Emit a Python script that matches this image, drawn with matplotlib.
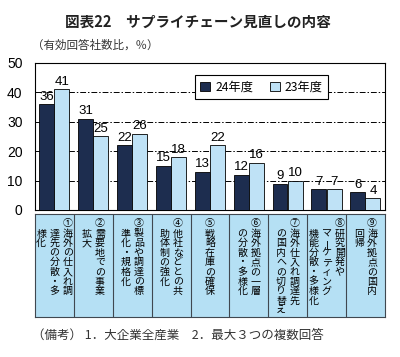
import numpy as np
import matplotlib
matplotlib.use("Agg")
import matplotlib.pyplot as plt
from matplotlib.patches import Patch

plt.rcParams['font.family'] = ['Noto Sans CJK JP', 'DejaVu Sans']

# data
series = ['24年度', '23年度']
fy24 = [36, 31, 22, 15, 13, 12, 9, 7, 6]
fy23 = [41, 25, 26, 18, 22, 16, 10, 7, 4]
nums = ['①', '②', '③', '④', '⑤', '⑥', '⑦', '⑧', '⑨']
# each label as vertical columns, right to left
labels = [
    ['海外の仕入れ調', '達先の分散・多', '様化'],
    ['需要地での事業', '拡大'],
    ['製品や調達の標', '準化・規格化'],
    ['他社などとの共', '助体制の強化'],
    ['戦略在庫の確保'],
    ['海外拠点の一層', 'の分散・多様化'],
    ['海外仕入れ調達先', 'の国内への切り替え'],
    ['研究開発や', 'マーケティング', '機能分散・多様化'],
    ['海外拠点の国内', '回帰'],
]

dark = '#1d2d4f'
light = '#bfe2f6'
cell = '#b5e0f4'

fig = plt.figure(figsize=(4, 3.57), dpi=100)
ax = fig.add_axes([0.0875, 0.4118, 0.875, 0.4118])

x = np.arange(len(fy24))
w = 0.385
b1 = ax.bar(x - 0.2, fy24, w, color=dark, edgecolor='black', linewidth=0.6, zorder=3)
b2 = ax.bar(x + 0.19, fy23, w, color=light, edgecolor='black', linewidth=0.6, zorder=3)

for bars, vals in [(b1, fy24), (b2, fy23)]:
    for r, v in zip(bars, vals):
        ax.text(r.get_x() + r.get_width() / 2, v + 0.5, str(v), ha='center', va='bottom',
                fontsize=9.5, family='Liberation Sans', zorder=4)

ax.set_xlim(-0.5, 8.5)
ax.set_ylim(0, 50)
ax.set_yticks(range(0, 51, 10))
ax.set_xticks([])
ax.tick_params(axis='y', length=0, pad=9)
for t in ax.get_yticklabels():
    t.set_family('Liberation Sans')
    t.set_fontsize(10)
for y in range(10, 50, 10):
    ax.axhline(y, color='black', linewidth=0.7, linestyle=(0, (6, 2, 1.5, 2)), zorder=1)
for s in ax.spines.values():
    s.set_linewidth(0.8)

handles = [Patch(facecolor=dark, edgecolor='black', linewidth=0.6),
           Patch(facecolor=light, edgecolor='black', linewidth=0.6)]
leg = ax.legend(handles, series, loc='upper left', bbox_to_anchor=(0.457, 0.918), ncol=2,
                fontsize=8.8, frameon=True, fancybox=False, edgecolor='black',
                handlelength=0.8, handleheight=0.8, handletextpad=0.4, columnspacing=1.4,
                borderaxespad=0, borderpad=0.45, framealpha=1)
leg.get_frame().set_linewidth(0.8)
leg.set_zorder(5)

# label table
tb = fig.add_axes([0.0875, 0.112, 0.875, 0.2885])
tb.set_xlim(-0.5, 8.5)
tb.set_ylim(103, 0)
tb.set_facecolor(cell)
tb.set_xticks([])
tb.set_yticks([])
for s in tb.spines.values():
    s.set_color('#404850')
    s.set_linewidth(0.8)
for i in range(1, len(nums)):
    tb.axvline(i - 0.5, color='#404850', linewidth=0.8)

pitch_x = 13.2 / 38.9
pitch_y = 9.6
for i, (num, cols) in enumerate(zip(nums, labels)):
    n = len(cols)
    for k, col in enumerate(cols):
        cx = i + ((n - 1) / 2 - k) * pitch_x
        if k == 0:
            tb.text(cx, 9, num, ha='center', va='center', fontsize=7.2)
        for j, ch in enumerate(col):
            rot = 90 if ch == 'ー' else 0
            tb.text(cx, 19.5 + j * pitch_y, ch, ha='center', va='center',
                    fontsize=7.2, rotation=rot)

fig.text(0.495, 0.938, '図表22　サプライチェーン見直しの内容', ha='center', va='center',
         fontsize=10.5, fontweight='bold', color='#222222')
fig.text(0.08, 0.874, '（有効回答社数比，％）', ha='left', va='center', fontsize=8.3, color='#333333')
fig.text(0.08, 0.062, '（備考） 1．大企業全産業　2．最大３つの複数回答', ha='left', va='center',
         fontsize=9, color='#333333')

fig.savefig('out.png', dpi=100)
